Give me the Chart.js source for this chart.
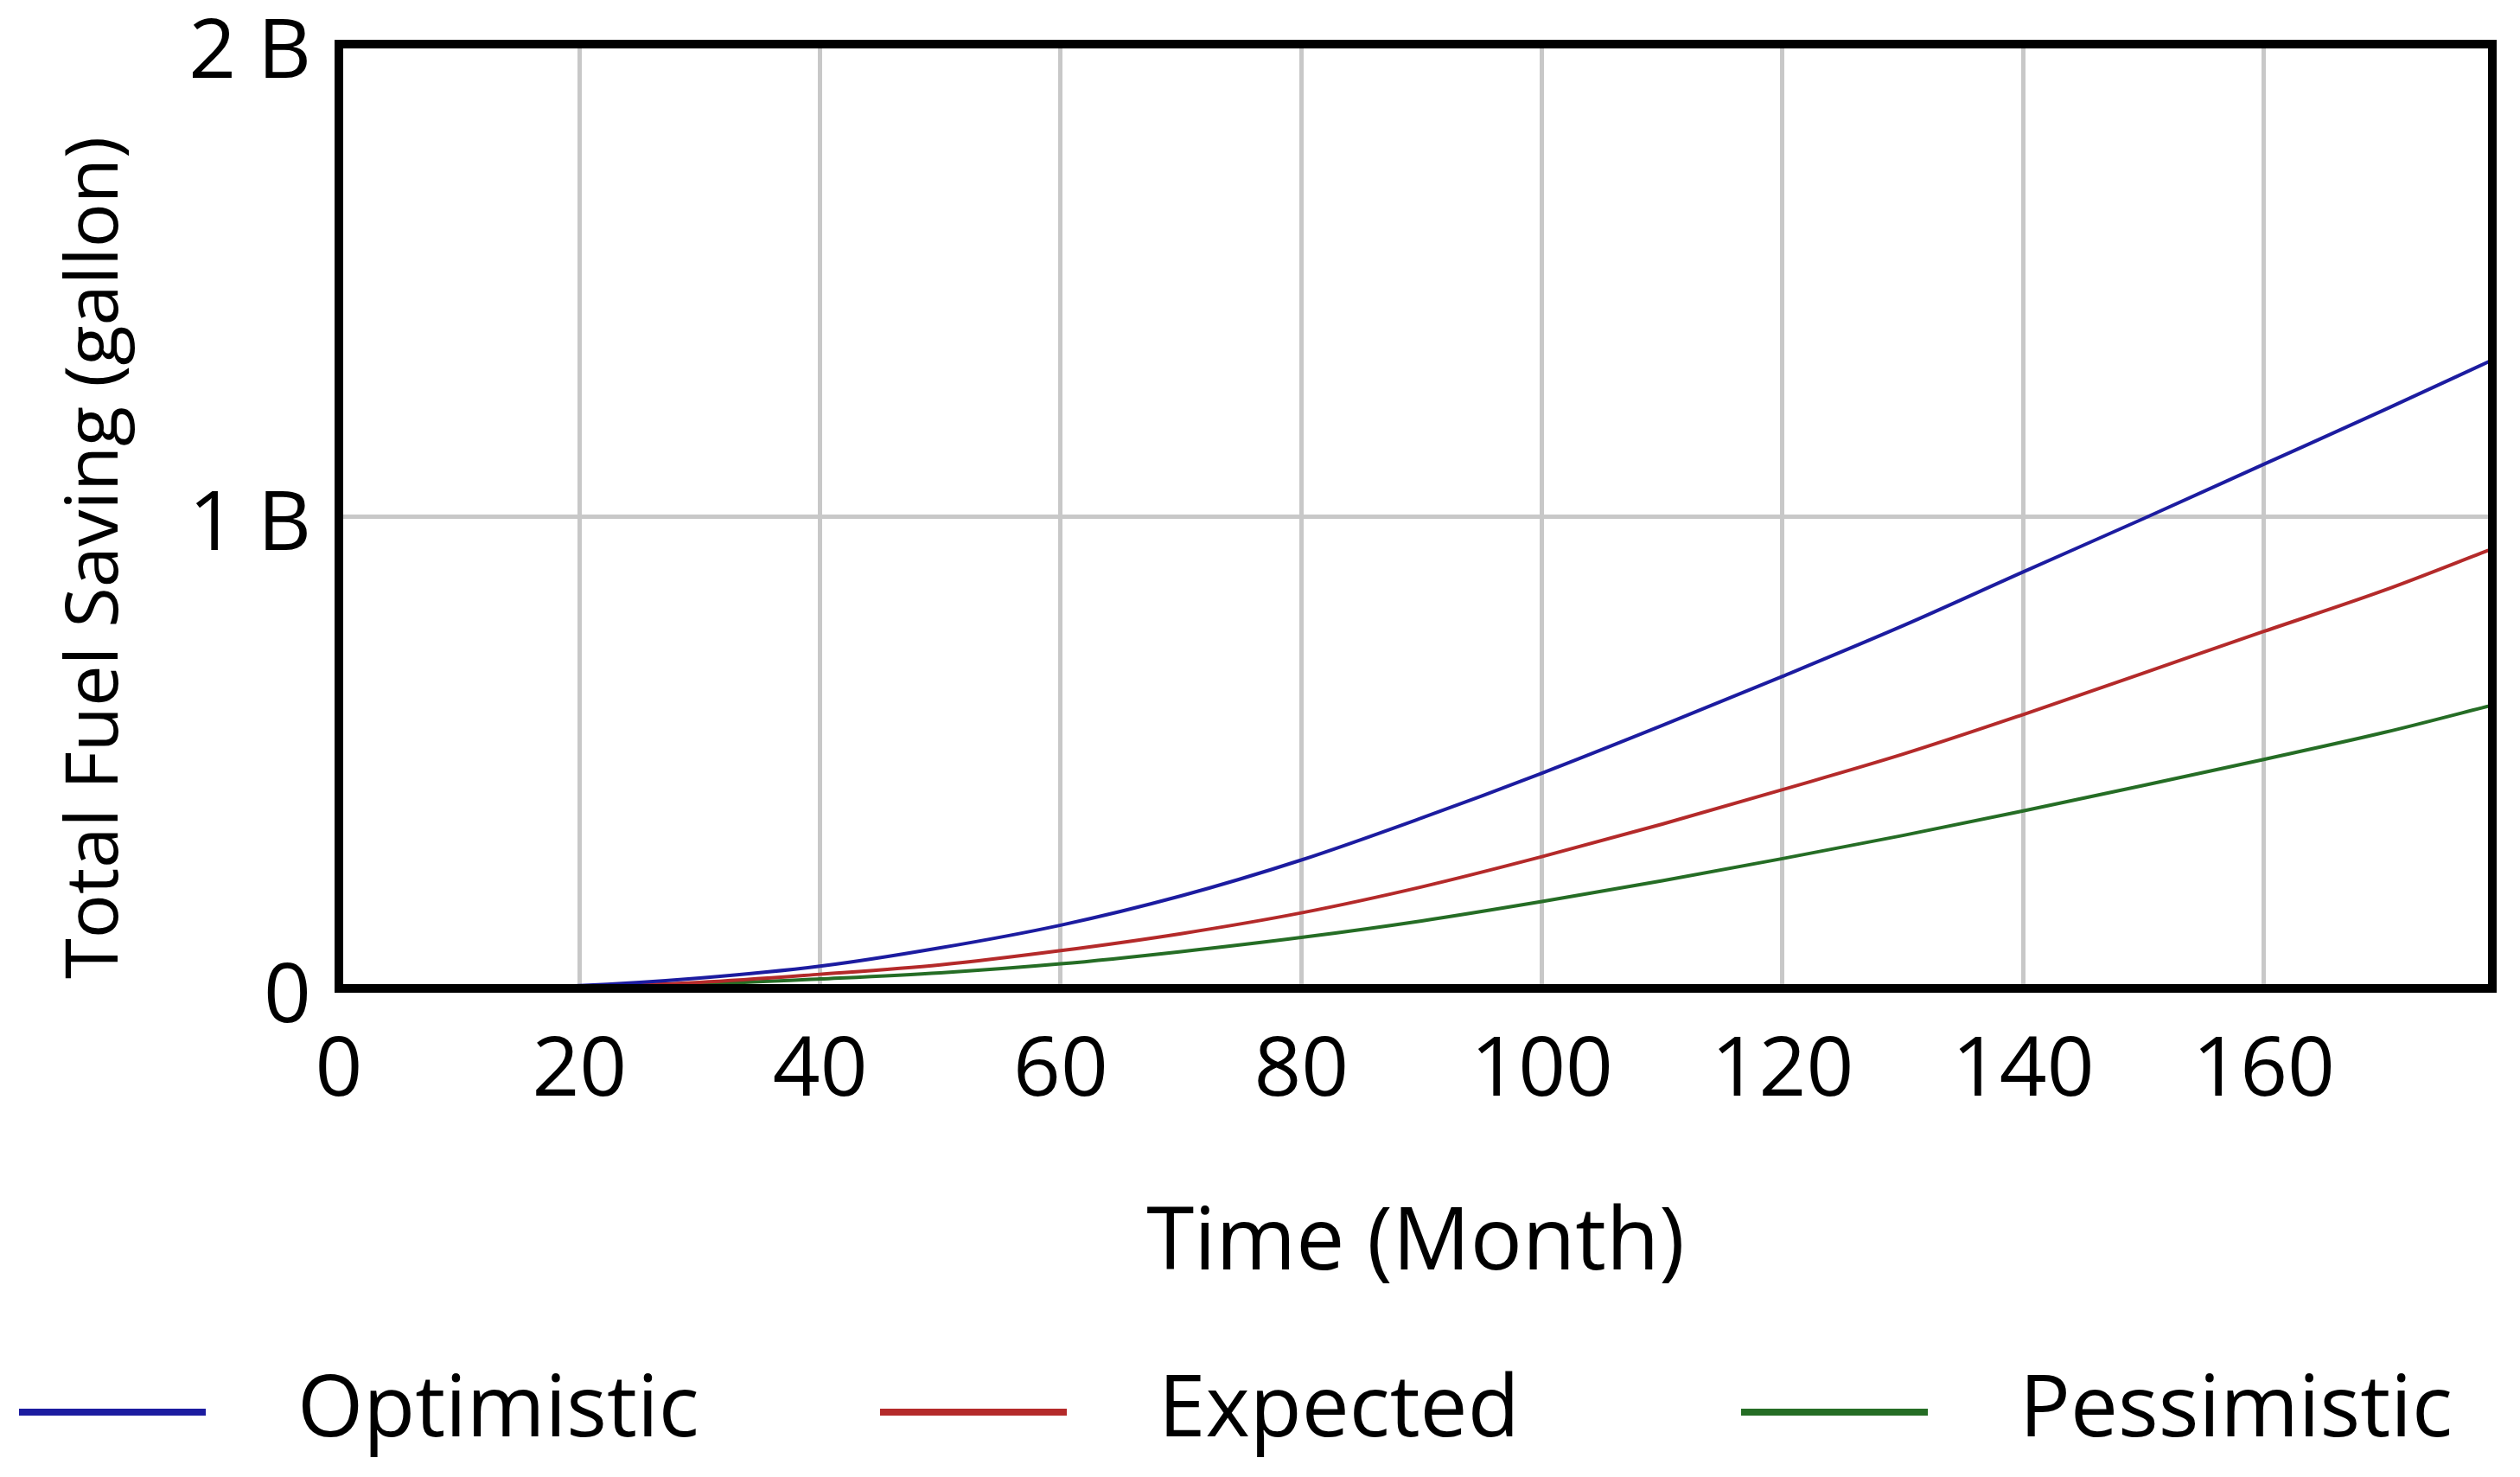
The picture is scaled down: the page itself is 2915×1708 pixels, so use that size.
<!DOCTYPE html>
<html>
<head>
<meta charset="utf-8">
<title>Total Fuel Saving</title>
<script src="https://cdn.jsdelivr.net/npm/chart.js@4.4.1/dist/chart.umd.min.js"></script>
<style>
    html, body { margin: 0; padding: 0; background: #ffffff; }
    #wrap { width: 2915px; height: 1708px; }
</style>
</head>
<body>
<div id="wrap"><canvas id="fuelChart" width="2915" height="1708"></canvas></div>
<script>
// time axis (month) and total fuel saving in billions of gallons
const months = [0, 10, 20, 30, 40, 50, 60, 70, 80, 90, 100, 110, 120, 130, 140, 150, 160, 170, 179];
const optimistic = [0, 0.001, 0.006, 0.022, 0.047, 0.086, 0.134, 0.196, 0.272, 0.361, 0.456, 0.557, 0.661, 0.768, 0.882, 0.995, 1.110, 1.225, 1.331];
const expected = [0, 0.0008, 0.004, 0.013, 0.030, 0.050, 0.080, 0.116, 0.160, 0.215, 0.279, 0.348, 0.421, 0.496, 0.580, 0.668, 0.756, 0.843, 0.931];
const pessimistic = [0, 0.0005, 0.003, 0.009, 0.020, 0.033, 0.052, 0.078, 0.108, 0.143, 0.184, 0.228, 0.275, 0.324, 0.376, 0.430, 0.485, 0.542, 0.600];

const seriesNames = ['Optimistic', 'Expected', 'Pessimistic'];
const seriesColors = ['#1c1ca0', '#b42a2a', '#256d25'];

const xTicks = [0, 20, 40, 60, 80, 100, 120, 140, 160];
const yTicks = [0, 1, 2];

const FONT = "'Open Sans', 'Noto Sans', sans-serif";

function toPoints(values) {
    return months.map((m, i) => ({ x: m, y: values[i] }));
}

// black frame round the plot, legend row and rotated y title
const framePlugin = {
    id: 'frame',
    afterDatasetsDraw(chart) {
        const { ctx, chartArea } = chart;
        ctx.save();
        ctx.strokeStyle = '#000000';
        ctx.lineWidth = 10;
        ctx.strokeRect(chartArea.left, chartArea.top,
            chartArea.right - chartArea.left, chartArea.bottom - chartArea.top);
        ctx.restore();
    },
    afterDraw(chart) {
        const ctx = chart.ctx;
        ctx.save();

        // y axis title
        ctx.translate(112, 645);
        ctx.rotate(-Math.PI / 2);
        ctx.fillStyle = '#000000';
        ctx.font = `85px ${FONT}`;
        ctx.textAlign = 'center';
        ctx.textBaseline = 'middle';
        ctx.fillText('Total Fuel Saving (gallon)', 0, 0);
        ctx.setTransform(1, 0, 0, 1, 0, 0);

        // legend
        const legendY = 1633;
        chart.data.datasets.forEach((ds, i) => {
            const x0 = 22 + i * 996;
            ctx.strokeStyle = ds.borderColor;
            ctx.lineWidth = 8;
            ctx.beginPath();
            ctx.moveTo(x0, legendY);
            ctx.lineTo(x0 + 216, legendY);
            ctx.stroke();

            ctx.fillStyle = '#000000';
            ctx.font = `98px ${FONT}`;
            ctx.textAlign = 'left';
            ctx.textBaseline = 'middle';
            ctx.fillText(ds.label, x0 + 322, legendY);
        });
        ctx.restore();
    }
};

const ctx = document.getElementById('fuelChart').getContext('2d');

const chart = new Chart(ctx, {
    type: 'line',
    data: {
        datasets: [
            { label: seriesNames[0], data: toPoints(optimistic), borderColor: seriesColors[0] },
            { label: seriesNames[1], data: toPoints(expected), borderColor: seriesColors[1] },
            { label: seriesNames[2], data: toPoints(pessimistic), borderColor: seriesColors[2] }
        ].map(ds => Object.assign(ds, {
            borderWidth: 4,
            pointRadius: 0,
            fill: false,
            cubicInterpolationMode: 'monotone'
        }))
    },
    options: {
        responsive: false,
        animation: false,
        devicePixelRatio: 1,
        layout: {
            padding: { top: 51, right: 32, bottom: 0, left: 0 }
        },
        plugins: {
            legend: { display: false },
            tooltip: { enabled: false }
        },
        scales: {
            x: {
                type: 'linear',
                min: 0,
                max: 179,
                afterBuildTicks: scale => {
                    scale.ticks = xTicks.map(v => ({ value: v }));
                },
                afterFit: scale => {
                    scale.height = 565;
                },
                grid: {
                    color: '#c8c8c8',
                    lineWidth: 5,
                    drawTicks: false
                },
                border: { display: false },
                ticks: {
                    color: '#000000',
                    padding: 39,
                    maxRotation: 0,
                    font: { family: FONT, size: 96 }
                },
                title: {
                    display: true,
                    text: 'Time (Month)',
                    color: '#000000',
                    padding: { top: 0, bottom: 208 },
                    font: { family: FONT, size: 100 }
                }
            },
            y: {
                min: 0,
                max: 2,
                afterBuildTicks: scale => {
                    scale.ticks = yTicks.map(v => ({ value: v }));
                },
                afterFit: scale => {
                    scale.width = 392;
                },
                grid: {
                    color: '#c8c8c8',
                    lineWidth: 5,
                    drawTicks: false
                },
                border: { display: false },
                ticks: {
                    color: '#000000',
                    padding: 32,
                    labelOffset: 12,
                    font: { family: FONT, size: 96, lineHeight: 0.3 },
                    callback: v => (v === 0 ? '0' : v + ' B')
                }
            }
        }
    },
    plugins: [framePlugin]
});
</script>
</body>
</html>
